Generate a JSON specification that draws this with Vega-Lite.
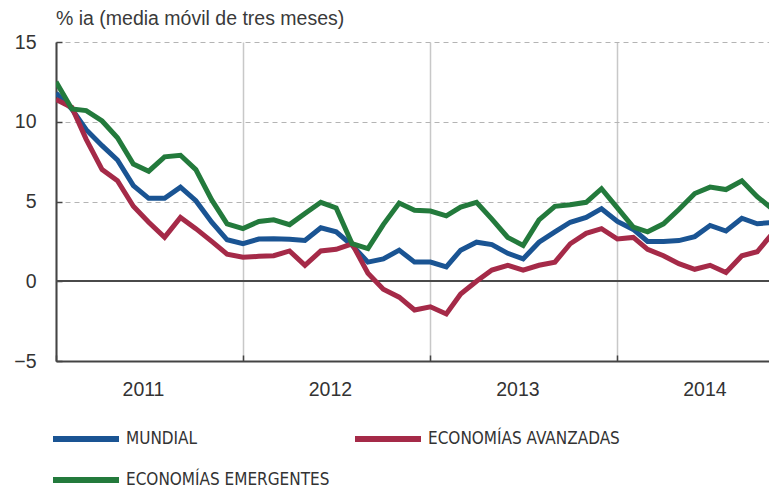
{
  "$schema": "https://vega.github.io/schema/vega-lite/v6.json",
  "width": 713,
  "height": 319,
  "autosize": "none",
  "padding": {"left": 56, "top": 42, "right": 0, "bottom": 129},
  "background": "white",
  "title": {"text": "% ia (media móvil de tres meses)", "anchor": "start", "frame": "group", "offset": 3, "fontSize": 19.5, "font": "Liberation Sans", "fontWeight": "normal", "color": "#3a3a3a"},
  "config": {"view": {"stroke": null}},
  "datasets": {
    "series": [
      {"date": "2011-01-01", "serie": "MUNDIAL", "value": 11.8},
      {"date": "2011-02-01", "serie": "MUNDIAL", "value": 10.8},
      {"date": "2011-03-01", "serie": "MUNDIAL", "value": 9.5},
      {"date": "2011-04-01", "serie": "MUNDIAL", "value": 8.5},
      {"date": "2011-05-01", "serie": "MUNDIAL", "value": 7.6},
      {"date": "2011-06-01", "serie": "MUNDIAL", "value": 6.0},
      {"date": "2011-07-01", "serie": "MUNDIAL", "value": 5.2},
      {"date": "2011-08-01", "serie": "MUNDIAL", "value": 5.2},
      {"date": "2011-09-01", "serie": "MUNDIAL", "value": 5.9},
      {"date": "2011-10-01", "serie": "MUNDIAL", "value": 5.05},
      {"date": "2011-11-01", "serie": "MUNDIAL", "value": 3.7},
      {"date": "2011-12-01", "serie": "MUNDIAL", "value": 2.6},
      {"date": "2012-01-01", "serie": "MUNDIAL", "value": 2.35},
      {"date": "2012-02-01", "serie": "MUNDIAL", "value": 2.65},
      {"date": "2012-03-01", "serie": "MUNDIAL", "value": 2.67},
      {"date": "2012-04-01", "serie": "MUNDIAL", "value": 2.63},
      {"date": "2012-05-01", "serie": "MUNDIAL", "value": 2.56},
      {"date": "2012-06-01", "serie": "MUNDIAL", "value": 3.35},
      {"date": "2012-07-01", "serie": "MUNDIAL", "value": 3.1},
      {"date": "2012-08-01", "serie": "MUNDIAL", "value": 2.25},
      {"date": "2012-09-01", "serie": "MUNDIAL", "value": 1.2},
      {"date": "2012-10-01", "serie": "MUNDIAL", "value": 1.4},
      {"date": "2012-11-01", "serie": "MUNDIAL", "value": 1.95},
      {"date": "2012-12-01", "serie": "MUNDIAL", "value": 1.2},
      {"date": "2013-01-01", "serie": "MUNDIAL", "value": 1.2},
      {"date": "2013-02-01", "serie": "MUNDIAL", "value": 0.9},
      {"date": "2013-03-01", "serie": "MUNDIAL", "value": 1.95},
      {"date": "2013-04-01", "serie": "MUNDIAL", "value": 2.45},
      {"date": "2013-05-01", "serie": "MUNDIAL", "value": 2.3},
      {"date": "2013-06-01", "serie": "MUNDIAL", "value": 1.75},
      {"date": "2013-07-01", "serie": "MUNDIAL", "value": 1.4},
      {"date": "2013-08-01", "serie": "MUNDIAL", "value": 2.45},
      {"date": "2013-09-01", "serie": "MUNDIAL", "value": 3.1},
      {"date": "2013-10-01", "serie": "MUNDIAL", "value": 3.7},
      {"date": "2013-11-01", "serie": "MUNDIAL", "value": 4.0},
      {"date": "2013-12-01", "serie": "MUNDIAL", "value": 4.55},
      {"date": "2014-01-01", "serie": "MUNDIAL", "value": 3.75},
      {"date": "2014-02-01", "serie": "MUNDIAL", "value": 3.25},
      {"date": "2014-03-01", "serie": "MUNDIAL", "value": 2.5},
      {"date": "2014-04-01", "serie": "MUNDIAL", "value": 2.5},
      {"date": "2014-05-01", "serie": "MUNDIAL", "value": 2.55},
      {"date": "2014-06-01", "serie": "MUNDIAL", "value": 2.8},
      {"date": "2014-07-01", "serie": "MUNDIAL", "value": 3.5},
      {"date": "2014-08-01", "serie": "MUNDIAL", "value": 3.15},
      {"date": "2014-09-01", "serie": "MUNDIAL", "value": 3.95},
      {"date": "2014-10-01", "serie": "MUNDIAL", "value": 3.6},
      {"date": "2014-11-01", "serie": "MUNDIAL", "value": 3.7},
      {"date": "2011-01-01", "serie": "ECONOMÍAS AVANZADAS", "value": 11.4},
      {"date": "2011-02-01", "serie": "ECONOMÍAS AVANZADAS", "value": 10.9},
      {"date": "2011-03-01", "serie": "ECONOMÍAS AVANZADAS", "value": 8.9},
      {"date": "2011-04-01", "serie": "ECONOMÍAS AVANZADAS", "value": 7.0},
      {"date": "2011-05-01", "serie": "ECONOMÍAS AVANZADAS", "value": 6.3},
      {"date": "2011-06-01", "serie": "ECONOMÍAS AVANZADAS", "value": 4.7},
      {"date": "2011-07-01", "serie": "ECONOMÍAS AVANZADAS", "value": 3.7},
      {"date": "2011-08-01", "serie": "ECONOMÍAS AVANZADAS", "value": 2.75},
      {"date": "2011-09-01", "serie": "ECONOMÍAS AVANZADAS", "value": 4.0},
      {"date": "2011-10-01", "serie": "ECONOMÍAS AVANZADAS", "value": 3.3},
      {"date": "2011-11-01", "serie": "ECONOMÍAS AVANZADAS", "value": 2.5},
      {"date": "2011-12-01", "serie": "ECONOMÍAS AVANZADAS", "value": 1.7},
      {"date": "2012-01-01", "serie": "ECONOMÍAS AVANZADAS", "value": 1.5},
      {"date": "2012-02-01", "serie": "ECONOMÍAS AVANZADAS", "value": 1.56},
      {"date": "2012-03-01", "serie": "ECONOMÍAS AVANZADAS", "value": 1.6},
      {"date": "2012-04-01", "serie": "ECONOMÍAS AVANZADAS", "value": 1.9},
      {"date": "2012-05-01", "serie": "ECONOMÍAS AVANZADAS", "value": 1.0},
      {"date": "2012-06-01", "serie": "ECONOMÍAS AVANZADAS", "value": 1.9},
      {"date": "2012-07-01", "serie": "ECONOMÍAS AVANZADAS", "value": 2.0},
      {"date": "2012-08-01", "serie": "ECONOMÍAS AVANZADAS", "value": 2.35},
      {"date": "2012-09-01", "serie": "ECONOMÍAS AVANZADAS", "value": 0.5},
      {"date": "2012-10-01", "serie": "ECONOMÍAS AVANZADAS", "value": -0.5},
      {"date": "2012-11-01", "serie": "ECONOMÍAS AVANZADAS", "value": -1.0},
      {"date": "2012-12-01", "serie": "ECONOMÍAS AVANZADAS", "value": -1.8},
      {"date": "2013-01-01", "serie": "ECONOMÍAS AVANZADAS", "value": -1.6},
      {"date": "2013-02-01", "serie": "ECONOMÍAS AVANZADAS", "value": -2.05},
      {"date": "2013-03-01", "serie": "ECONOMÍAS AVANZADAS", "value": -0.8},
      {"date": "2013-04-01", "serie": "ECONOMÍAS AVANZADAS", "value": 0.0},
      {"date": "2013-05-01", "serie": "ECONOMÍAS AVANZADAS", "value": 0.7},
      {"date": "2013-06-01", "serie": "ECONOMÍAS AVANZADAS", "value": 1.0},
      {"date": "2013-07-01", "serie": "ECONOMÍAS AVANZADAS", "value": 0.7},
      {"date": "2013-08-01", "serie": "ECONOMÍAS AVANZADAS", "value": 1.0},
      {"date": "2013-09-01", "serie": "ECONOMÍAS AVANZADAS", "value": 1.2},
      {"date": "2013-10-01", "serie": "ECONOMÍAS AVANZADAS", "value": 2.35},
      {"date": "2013-11-01", "serie": "ECONOMÍAS AVANZADAS", "value": 3.0},
      {"date": "2013-12-01", "serie": "ECONOMÍAS AVANZADAS", "value": 3.3},
      {"date": "2014-01-01", "serie": "ECONOMÍAS AVANZADAS", "value": 2.65},
      {"date": "2014-02-01", "serie": "ECONOMÍAS AVANZADAS", "value": 2.75},
      {"date": "2014-03-01", "serie": "ECONOMÍAS AVANZADAS", "value": 2.0},
      {"date": "2014-04-01", "serie": "ECONOMÍAS AVANZADAS", "value": 1.6},
      {"date": "2014-05-01", "serie": "ECONOMÍAS AVANZADAS", "value": 1.1},
      {"date": "2014-06-01", "serie": "ECONOMÍAS AVANZADAS", "value": 0.75},
      {"date": "2014-07-01", "serie": "ECONOMÍAS AVANZADAS", "value": 1.0},
      {"date": "2014-08-01", "serie": "ECONOMÍAS AVANZADAS", "value": 0.55},
      {"date": "2014-09-01", "serie": "ECONOMÍAS AVANZADAS", "value": 1.6},
      {"date": "2014-10-01", "serie": "ECONOMÍAS AVANZADAS", "value": 1.85},
      {"date": "2014-11-01", "serie": "ECONOMÍAS AVANZADAS", "value": 3.05},
      {"date": "2011-01-01", "serie": "ECONOMÍAS EMERGENTES", "value": 12.5},
      {"date": "2011-02-01", "serie": "ECONOMÍAS EMERGENTES", "value": 10.8},
      {"date": "2011-03-01", "serie": "ECONOMÍAS EMERGENTES", "value": 10.7},
      {"date": "2011-04-01", "serie": "ECONOMÍAS EMERGENTES", "value": 10.05},
      {"date": "2011-05-01", "serie": "ECONOMÍAS EMERGENTES", "value": 9.0},
      {"date": "2011-06-01", "serie": "ECONOMÍAS EMERGENTES", "value": 7.35},
      {"date": "2011-07-01", "serie": "ECONOMÍAS EMERGENTES", "value": 6.9},
      {"date": "2011-08-01", "serie": "ECONOMÍAS EMERGENTES", "value": 7.8},
      {"date": "2011-09-01", "serie": "ECONOMÍAS EMERGENTES", "value": 7.9},
      {"date": "2011-10-01", "serie": "ECONOMÍAS EMERGENTES", "value": 7.0},
      {"date": "2011-11-01", "serie": "ECONOMÍAS EMERGENTES", "value": 5.1},
      {"date": "2011-12-01", "serie": "ECONOMÍAS EMERGENTES", "value": 3.6},
      {"date": "2012-01-01", "serie": "ECONOMÍAS EMERGENTES", "value": 3.3},
      {"date": "2012-02-01", "serie": "ECONOMÍAS EMERGENTES", "value": 3.75},
      {"date": "2012-03-01", "serie": "ECONOMÍAS EMERGENTES", "value": 3.85},
      {"date": "2012-04-01", "serie": "ECONOMÍAS EMERGENTES", "value": 3.55},
      {"date": "2012-05-01", "serie": "ECONOMÍAS EMERGENTES", "value": 4.25},
      {"date": "2012-06-01", "serie": "ECONOMÍAS EMERGENTES", "value": 4.95},
      {"date": "2012-07-01", "serie": "ECONOMÍAS EMERGENTES", "value": 4.6},
      {"date": "2012-08-01", "serie": "ECONOMÍAS EMERGENTES", "value": 2.35},
      {"date": "2012-09-01", "serie": "ECONOMÍAS EMERGENTES", "value": 2.05},
      {"date": "2012-10-01", "serie": "ECONOMÍAS EMERGENTES", "value": 3.55},
      {"date": "2012-11-01", "serie": "ECONOMÍAS EMERGENTES", "value": 4.9},
      {"date": "2012-12-01", "serie": "ECONOMÍAS EMERGENTES", "value": 4.45},
      {"date": "2013-01-01", "serie": "ECONOMÍAS EMERGENTES", "value": 4.4},
      {"date": "2013-02-01", "serie": "ECONOMÍAS EMERGENTES", "value": 4.1},
      {"date": "2013-03-01", "serie": "ECONOMÍAS EMERGENTES", "value": 4.65},
      {"date": "2013-04-01", "serie": "ECONOMÍAS EMERGENTES", "value": 4.95},
      {"date": "2013-05-01", "serie": "ECONOMÍAS EMERGENTES", "value": 3.9},
      {"date": "2013-06-01", "serie": "ECONOMÍAS EMERGENTES", "value": 2.75},
      {"date": "2013-07-01", "serie": "ECONOMÍAS EMERGENTES", "value": 2.25},
      {"date": "2013-08-01", "serie": "ECONOMÍAS EMERGENTES", "value": 3.85},
      {"date": "2013-09-01", "serie": "ECONOMÍAS EMERGENTES", "value": 4.7},
      {"date": "2013-10-01", "serie": "ECONOMÍAS EMERGENTES", "value": 4.8},
      {"date": "2013-11-01", "serie": "ECONOMÍAS EMERGENTES", "value": 4.95},
      {"date": "2013-12-01", "serie": "ECONOMÍAS EMERGENTES", "value": 5.8},
      {"date": "2014-01-01", "serie": "ECONOMÍAS EMERGENTES", "value": 4.6},
      {"date": "2014-02-01", "serie": "ECONOMÍAS EMERGENTES", "value": 3.4},
      {"date": "2014-03-01", "serie": "ECONOMÍAS EMERGENTES", "value": 3.1},
      {"date": "2014-04-01", "serie": "ECONOMÍAS EMERGENTES", "value": 3.6},
      {"date": "2014-05-01", "serie": "ECONOMÍAS EMERGENTES", "value": 4.5},
      {"date": "2014-06-01", "serie": "ECONOMÍAS EMERGENTES", "value": 5.5},
      {"date": "2014-07-01", "serie": "ECONOMÍAS EMERGENTES", "value": 5.9},
      {"date": "2014-08-01", "serie": "ECONOMÍAS EMERGENTES", "value": 5.75},
      {"date": "2014-09-01", "serie": "ECONOMÍAS EMERGENTES", "value": 6.3},
      {"date": "2014-10-01", "serie": "ECONOMÍAS EMERGENTES", "value": 5.3},
      {"date": "2014-11-01", "serie": "ECONOMÍAS EMERGENTES", "value": 4.5}
    ]
  },
  "data": {"name": "series"},
  "layer": [
    {
      "mark": {"type": "rule", "color": "#4a4a4a", "strokeWidth": 1.5},
      "encoding": {"y": {"datum": 0}}
    },
    {
      "mark": {"type": "line", "strokeWidth": 5, "clip": true, "strokeJoin": "miter"},
      "encoding": {
        "x": {
          "field": "date",
          "type": "temporal",
          "scale": {"type": "utc", "domain": [{"year": 2011, "month": 1, "date": 1, "utc": true}, {"year": 2014, "month": 10, "date": 24, "utc": true}]},
          "axis": {
            "title": null,
            "values": [
              {"year": 2011, "month": 1, "date": 1, "utc": true},
              {"year": 2012, "month": 1, "date": 1, "utc": true},
              {"year": 2013, "month": 1, "date": 1, "utc": true},
              {"year": 2014, "month": 1, "date": 1, "utc": true}
            ],
            "format": "%Y",
            "formatType": "utc",
            "labelOffset": 87,
            "labelBound": false,
            "labelOverlap": false,
            "labelFlush": false,
            "labelFont": "Liberation Sans",
            "labelFontSize": 19.5,
            "labelColor": "#333333",
            "labelPadding": 25,
            "grid": true,
            "gridColor": "#c8c8c8",
            "gridWidth": 1.5,
            "tickSize": -6,
            "tickColor": "#444444",
            "tickWidth": 1.5,
            "domainColor": "#444444",
            "domainWidth": 2
          }
        },
        "y": {
          "field": "value",
          "type": "quantitative",
          "scale": {"domain": [-5, 15], "nice": false, "zero": false},
          "axis": {
            "title": null,
            "values": [-5, 0, 5, 10, 15],
            "labelFont": "Liberation Sans",
            "labelFontSize": 19.5,
            "labelColor": "#333333",
            "labelPadding": 26,
            "grid": true,
            "gridDash": [5, 4],
            "gridColor": "#b4b4b4",
            "gridWidth": 1,
            "tickSize": -6,
            "tickColor": "#444444",
            "tickWidth": 1.5,
            "domainColor": "#444444",
            "domainWidth": 2
          }
        },
        "color": {
          "field": "serie",
          "type": "nominal",
          "scale": {
            "domain": ["MUNDIAL", "ECONOMÍAS AVANZADAS", "ECONOMÍAS EMERGENTES"],
            "range": ["#1a5493", "#a52a48", "#237a3c"]
          },
          "legend": {
            "title": null,
            "orient": "none",
            "legendX": -6,
            "legendY": 383,
            "direction": "horizontal",
            "columns": 2,
            "symbolType": "M-1,0H5",
            "symbolSize": 484,
            "symbolStrokeWidth": 6,
            "labelFont": "DejaVu Sans Condensed",
            "labelFontSize": 17,
            "labelColor": "#333333",
            "labelOffset": 48,
            "labelLimit": 400,
            "columnPadding": 13,
            "rowPadding": 15
          }
        }
      }
    }
  ]
}
